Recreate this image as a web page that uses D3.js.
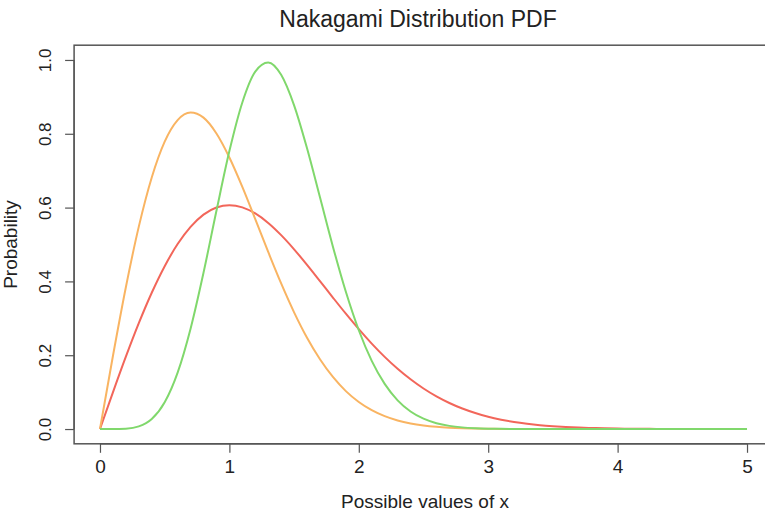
<!DOCTYPE html>
<html>
<head>
<meta charset="utf-8">
<script src="https://cdn.jsdelivr.net/npm/d3@7"></script>
<style>
  html, body { margin: 0; padding: 0; background: #fff; }
  svg { display: block; }
  text { font-family: "Liberation Sans", Arial, Helvetica, sans-serif; fill: #222; }
</style>
</head>
<body>
<svg id="chart" width="765" height="513"></svg>
<script>
// x positions where each density is sampled
const xValues = [
  0.0, 0.1, 0.2, 0.3, 0.4, 0.5, 0.6, 0.7, 0.8, 0.9,
  1.0, 1.1, 1.2, 1.3, 1.4, 1.5, 1.6, 1.7, 1.8, 1.9,
  2.0, 2.1, 2.2, 2.3, 2.4, 2.5, 2.6, 2.7, 2.8, 2.9,
  3.0, 3.1, 3.2, 3.3, 3.4, 3.5, 3.6, 3.7, 3.8, 3.9,
  4.0, 4.1, 4.2, 4.3, 4.4, 4.5, 4.6, 4.7, 4.8, 4.9, 5.0
];

// Nakagami m = 1, omega = 2
const redValues = [
  0.0000, 0.0995, 0.1960, 0.2868, 0.3692, 0.4412, 0.5012, 0.5477, 0.5809, 0.6004,
  0.6065, 0.6007, 0.5841, 0.5585, 0.5254, 0.4870, 0.4448, 0.4007, 0.3562, 0.3125,
  0.2707, 0.2316, 0.1956, 0.1633, 0.1347, 0.1098, 0.0885, 0.0706, 0.0555, 0.0433,
  0.0333, 0.0254, 0.0191, 0.0143, 0.0105, 0.0077, 0.0055, 0.0039, 0.0028, 0.0019,
  0.0013, 0.0009, 0.0006, 0.0004, 0.0003, 0.0002, 0.0001, 0.0001, 0.0000, 0.0000, 0.0000
];

// Nakagami m = 1, omega = 1
const orangeValues = [
  0.0000, 0.1980, 0.3843, 0.5484, 0.6817, 0.7788, 0.8372, 0.8577, 0.8437, 0.8009,
  0.7358, 0.6561, 0.5686, 0.4797, 0.3944, 0.3162, 0.2473, 0.1890, 0.1411, 0.1028,
  0.0733, 0.0511, 0.0348, 0.0232, 0.0151, 0.0096, 0.0060, 0.0037, 0.0022, 0.0013,
  0.0007, 0.0004, 0.0002, 0.0001, 0.0000, 0.0000, 0.0000, 0.0000, 0.0000, 0.0000,
  0.0000, 0.0000, 0.0000, 0.0000, 0.0000, 0.0000, 0.0000, 0.0000, 0.0000, 0.0000, 0.0000
];

// Nakagami m = 3, omega = 2
const greenValues = [
  0.0000, 0.0000, 0.0010, 0.0072, 0.0272, 0.0725, 0.1529, 0.2720, 0.4235, 0.5913,
  0.7531, 0.8849, 0.9685, 0.9932, 0.9597, 0.8770, 0.7606, 0.6278, 0.4942, 0.3719,
  0.2677, 0.1847, 0.1223, 0.0778, 0.0475, 0.0280, 0.0158, 0.0086, 0.0045, 0.0023,
  0.0011, 0.0005, 0.0002, 0.0001, 0.0000, 0.0000, 0.0000, 0.0000, 0.0000, 0.0000,
  0.0000, 0.0000, 0.0000, 0.0000, 0.0000, 0.0000, 0.0000, 0.0000, 0.0000, 0.0000, 0.0000
];

const xTicks = [0, 1, 2, 3, 4, 5];
const yTicks = [0.0, 0.2, 0.4, 0.6, 0.8, 1.0];

const titleText = "Nakagami Distribution PDF";
const xLabel = "Possible values of x";
const yLabel = "Probability";

const series = [
  { name: "m=1, omega=2", values: redValues, color: "#f2665a" },
  { name: "m=1, omega=1", values: orangeValues, color: "#f9b462" },
  { name: "m=3, omega=2", values: greenValues, color: "#80d86c" }
];

const svg = d3.select("#chart");
const FONT = "Liberation Sans, Arial, Helvetica, sans-serif";

// plotting region with the usual 4% padding around the data range
const x = d3.scaleLinear().domain([-0.2, 5.2]).range([74.1, 772.9]);
const y = d3.scaleLinear().domain([-0.04, 1.04]).range([443.8, 45.2]);

// frame around the plot region
svg.append("rect")
  .attr("x", x(-0.2)).attr("y", y(1.04))
  .attr("width", x(5.2) - x(-0.2)).attr("height", y(-0.04) - y(1.04))
  .attr("fill", "none").attr("stroke", "#555").attr("stroke-width", 1.5);

// bottom axis
const xAxis = d3.axisBottom(x).tickValues(xTicks).tickFormat(d3.format("d"))
  .tickSizeInner(9).tickSizeOuter(0).tickPadding(7);
const gx = svg.append("g").attr("transform", `translate(0,${y(-0.04)})`).call(xAxis);
gx.select(".domain").attr("d", `M${x(0)},0H${x(5)}`).attr("stroke", "#555").attr("stroke-width", 1.2);
gx.selectAll(".tick line").attr("stroke", "#555").attr("stroke-width", 1.2);
gx.selectAll(".tick text").attr("font-size", 19).style("font-family", FONT).attr("fill", "#222");

// left axis with rotated labels
const yAxis = d3.axisLeft(y).tickValues(yTicks).tickFormat(d3.format(".1f"))
  .tickSizeInner(9).tickSizeOuter(0).tickPadding(8);
const gy = svg.append("g").attr("transform", `translate(${x(-0.2)},0)`).call(yAxis);
gy.select(".domain").attr("d", `M0,${y(0)}V${y(1)}`).attr("stroke", "#555").attr("stroke-width", 1.2);
gy.selectAll(".tick line").attr("stroke", "#555").attr("stroke-width", 1.2);
gy.selectAll(".tick text")
  .attr("font-size", 17)
  .style("font-family", FONT)
  .attr("fill", "#222")
  .attr("x", null)
  .attr("text-anchor", "middle")
  .attr("transform", "translate(-29,0) rotate(-90)")
  .attr("dy", "0.35em");

// curves
const line = d3.line()
  .x((d, i) => x(xValues[i]))
  .y(d => y(d))
  .curve(d3.curveMonotoneX);

svg.append("g").selectAll("path")
  .data(series)
  .join("path")
  .attr("d", d => line(d.values))
  .attr("fill", "none")
  .attr("stroke", d => d.color)
  .attr("stroke-width", 2)
  .attr("stroke-linejoin", "round");

// title and axis labels
svg.append("text")
  .attr("x", 418).attr("y", 27)
  .attr("text-anchor", "middle")
  .attr("font-size", 23)
  .text(titleText);

svg.append("text")
  .attr("x", 425).attr("y", 508)
  .attr("text-anchor", "middle")
  .attr("font-size", 19)
  .text(xLabel);

svg.append("text")
  .attr("transform", `translate(17,${y(0.5)}) rotate(-90)`)
  .attr("text-anchor", "middle")
  .attr("font-size", 19)
  .text(yLabel);
</script>
</body>
</html>
